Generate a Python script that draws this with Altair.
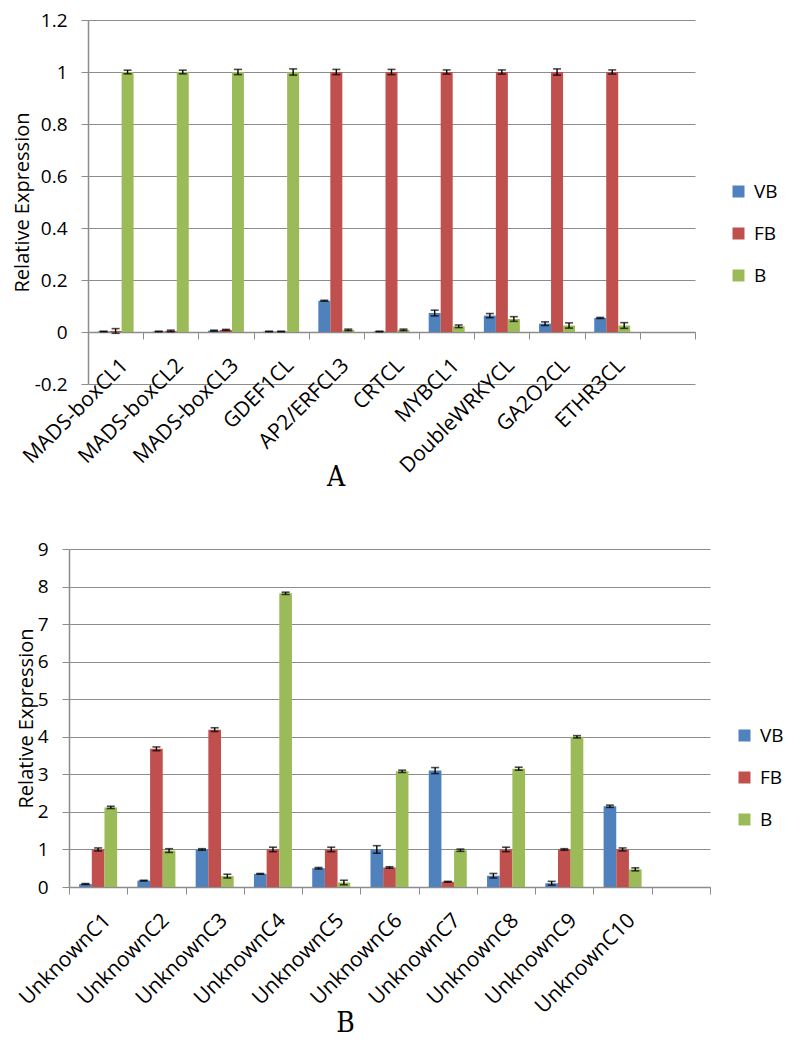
import altair as alt
import pandas as pd

series = ["VB", "FB", "B"]
series_colors = ["#4F81BD", "#C0504D", "#9BBB59"]

# Panel A
genes_a = ["MADS-boxCL1", "MADS-boxCL2", "MADS-boxCL3", "GDEF1CL", "AP2/ERFCL3",
           "CRTCL", "MYBCL1", "DoubleWRKYCL", "GA2O2CL", "ETHR3CL"]
a_vb = [0.002, 0.002, 0.005, 0.002, 0.12, 0.002, 0.073, 0.063, 0.032, 0.054]
a_vb_err = [0.001, 0.001, 0.002, 0.001, 0.002, 0.001, 0.011, 0.008, 0.007, 0.002]
a_fb = [0.004, 0.004, 0.008, 0.002, 1.0, 1.0, 1.0, 1.0, 1.0, 1.0]
a_fb_err = [0.009, 0.003, 0.002, 0.001, 0.01, 0.01, 0.008, 0.008, 0.012, 0.008]
a_b = [1.0, 1.0, 1.0, 1.0, 0.008, 0.008, 0.022, 0.05, 0.025, 0.025]
a_b_err = [0.007, 0.007, 0.01, 0.012, 0.003, 0.003, 0.005, 0.009, 0.01, 0.011]
a_ticks = [-0.2, 0, 0.2, 0.4, 0.6, 0.8, 1, 1.2]

# Panel B
genes_b = ["UnknownC1", "UnknownC2", "UnknownC3", "UnknownC4", "UnknownC5",
           "UnknownC6", "UnknownC7", "UnknownC8", "UnknownC9", "UnknownC10"]
b_vb = [0.08, 0.17, 1.0, 0.35, 0.5, 1.0, 3.1, 0.3, 0.1, 2.15]
b_vb_err = [0.01, 0.01, 0.02, 0.01, 0.02, 0.1, 0.08, 0.06, 0.05, 0.03]
b_fb = [1.0, 3.68, 4.19, 1.0, 1.0, 0.52, 0.14, 1.0, 1.0, 1.0]
b_fb_err = [0.04, 0.05, 0.05, 0.06, 0.06, 0.02, 0.01, 0.06, 0.02, 0.04]
b_b = [2.12, 0.97, 0.29, 7.82, 0.12, 3.08, 0.98, 3.15, 4.0, 0.47]
b_b_err = [0.03, 0.05, 0.05, 0.03, 0.06, 0.03, 0.03, 0.04, 0.03, 0.04]
b_ticks = [0, 1, 2, 3, 4, 5, 6, 7, 8, 9]

FONT = "Open Sans"
GREY = "#8c8c8c"
YTITLE = "Relative Expression"


def long_df(genes, vals, errs):
    rows = []
    for s, v, e in zip(series, vals, errs):
        for g, vv, ee in zip(genes, v, e):
            rows.append({"gene": g, "series": s, "value": vv, "lo": vv - ee, "hi": vv + ee})
    return pd.DataFrame(rows)


def panel(df, genes, ydom, yticks, width, height, xrange, yaxis_offset, xaxis_offset,
          label_pad, title_pad, caption, cap_dx, cap_offset, legend_x, legend_y):
    xdom = genes + [" "]
    xaxis = alt.Axis(title=None, labelAngle=-45, labelAlign="right", labelBaseline="middle",
                     tickBand="extent", offset=xaxis_offset, tickSize=7, labelPadding=label_pad,
                     labelOffset=9, labelFontSize=21, labelFont=FONT, grid=False,
                     labelOverlap=False)
    xenc = alt.X("gene:N", sort=xdom, axis=xaxis,
                 scale=alt.Scale(domain=xdom, paddingInner=0, paddingOuter=0, range=xrange))
    xoff = alt.XOffset("series:N", sort=series,
                       scale=alt.Scale(domain=series, paddingInner=0, paddingOuter=0.8))
    yscale = alt.Scale(domain=ydom, nice=False, zero=False)
    yaxis = alt.Axis(values=yticks, tickSize=7, labelPadding=14, labelFontSize=19, labelFont=FONT,
                     titleFont=FONT, titleFontSize=20, titleFontWeight="normal",
                     titlePadding=title_pad, grid=True, labelOverlap=False, offset=yaxis_offset,
                     labelExpr="datum.value < 0 ? '-' + format(-datum.value, '.1~f') : format(datum.value, '.1~f')")

    def yenc(field):
        return alt.Y(field, type="quantitative", scale=yscale, axis=yaxis, title=YTITLE)

    color = alt.Color("series:N", sort=series,
                      scale=alt.Scale(domain=series, range=series_colors),
                      legend=alt.Legend(title=None, orient="none", legendX=legend_x, legendY=legend_y,
                                        symbolType="square", symbolSize=144, symbolStrokeWidth=0,
                                        labelFontSize=19, labelFont=FONT, rowPadding=22,
                                        labelOffset=6))
    base = alt.Chart(df).encode(x=xenc, xOffset=xoff)
    bars = base.mark_bar().encode(y=yenc("value"), color=color)
    err = base.mark_rule(color="black", strokeWidth=1.4).encode(y=yenc("lo"), y2="hi:Q")
    cap_hi = base.mark_tick(color="black", size=8, thickness=1.6).encode(y=yenc("hi"))
    cap_lo = base.mark_tick(color="black", size=8, thickness=1.6).encode(y=yenc("lo"))
    return alt.layer(bars, err, cap_hi, cap_lo).properties(
        width=width, height=height,
        title=alt.TitleParams(text=caption, orient="bottom", anchor="middle", frame="group",
                              dx=cap_dx, fontSize=28, font="DejaVu Serif Condensed",
                              fontWeight="normal", offset=cap_offset, color="black"))


df_a = long_df(genes_a, [a_vb, a_fb, a_b], [a_vb_err, a_fb_err, a_b_err])
df_b = long_df(genes_b, [b_vb, b_fb, b_b], [b_vb_err, b_fb_err, b_b_err])

# Panel A plot spans 88..695 on the page, panel B 69..710; both views start at 69.
pa = panel(df_a, genes_a, [-0.2, 1.2], a_ticks, 626, 364, [19, 626], -19, -52, 23, 2,
           "A", -46, -12, 660, 162)
pb = panel(df_b, genes_b, [0, 9], b_ticks, 641, 338, [0, 641], 0, 0, 23, 1,
           "B", -44, -7, 666, 177)

chart = alt.vconcat(pa, pb, spacing=47).resolve_scale(
    x="independent", y="independent", color="independent", xOffset="independent"
).resolve_legend(color="independent").configure_axis(
    gridColor=GREY, domainColor=GREY, tickColor=GREY, labelColor="black", titleColor="black",
    domainWidth=1.5, gridWidth=1.2
).configure_view(stroke=None).properties(
    padding={"left": 4, "top": 3, "right": 0, "bottom": 0})

chart.save("out.html", embed_options={"renderer": "svg", "actions": False})
